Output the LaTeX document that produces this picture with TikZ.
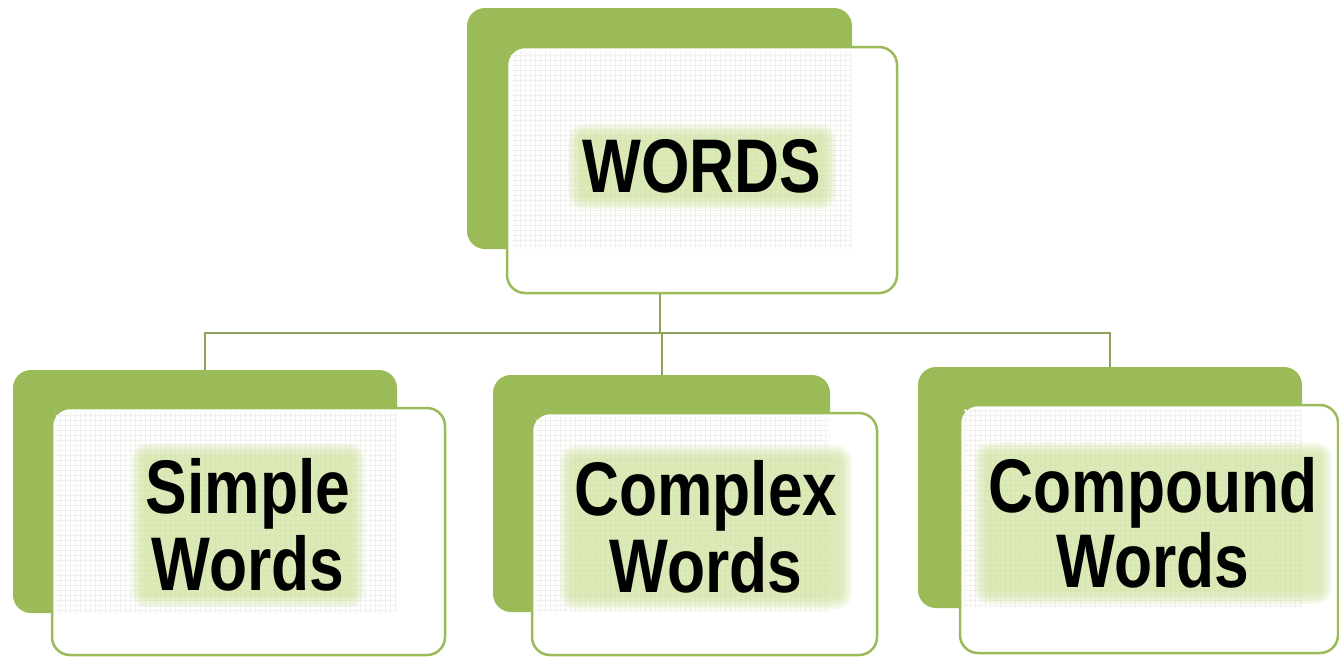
\documentclass[tikz,border=0pt]{standalone}
\usepackage{fontspec}
\newfontfamily\lblfont[FakeStretch=0.82]{Liberation Sans}
\definecolor{olive}{HTML}{9BBB59}
\definecolor{linec}{HTML}{8CA35A}
\definecolor{glowc}{HTML}{CFE39C}
\definecolor{gridc}{HTML}{F0F0EC}
\pgfdeclarelayer{fg}
\pgfsetlayers{main,fg}
\tikzset{
  backbox/.style={fill=olive, draw=none, rounded corners=18pt, inner sep=0pt},
  frontbox/.style={fill=white, draw=olive, line width=2.5pt, rounded corners=18pt, inner sep=0pt},
  lbl/.style={font=\lblfont\bfseries\fontsize{76}{77}\selectfont, align=center, inner sep=0pt, anchor=base, text=black},
  conn/.style={draw=linec, line width=2pt},
  gridline/.style={draw=gridc, line width=0.5pt},
  glowlayer/.style={fill=glowc, opacity=0.22, draw=none}
}
\newcommand\glowbox[1]{%
  \foreach \e in {12,9,6,3,0}{%
    \fill[glowlayer, rounded corners=\e pt+4pt]
      ([xshift=-\e pt-2pt,yshift=\e pt+2pt]#1.north west) rectangle
      ([xshift=\e pt+2pt,yshift=-\e pt-4pt]#1.south east);}}
\begin{document}
\begin{tikzpicture}[x=1pt,y=-1pt]
\useasboundingbox[fill=white] (0,0) rectangle (1339,657);
% back boxes
\node[backbox, minimum width=385pt, minimum height=241pt] (tb) at (659.5,128.5) {};
\node[backbox, minimum width=384pt, minimum height=243pt] (sb) at (205,491.5) {};
\node[backbox, minimum width=337pt, minimum height=237pt] (cb) at (661.5,493.5) {};
\node[backbox, minimum width=384pt, minimum height=241pt] (pb) at (1110,487.5) {};
% connectors
\coordinate (bus) at (0,333);
\draw[conn] (sb.north) |- (pb.north |- bus) -- (pb.north);
\draw[conn] (cb.north) -- (cb.north |- bus);
% front boxes
\node[frontbox, minimum width=390pt, minimum height=246pt] (tf) at (702,170) {};
\node[frontbox, minimum width=393pt, minimum height=247pt] (sf) at (248.5,531.5) {};
\node[frontbox, minimum width=345pt, minimum height=242pt] (cf) at (704.5,534) {};
\node[frontbox, minimum width=378pt, minimum height=248pt] (pf) at (1149,529) {};
\draw[conn] (tb.center |- tf.south) -- (tb.center |- bus);
% faint grid texture
\foreach \f/\b in {tf/tb, sf/sb, cf/cb, pf/pb}{
  \begin{scope}
    \clip ([xshift=5pt,yshift=-6pt]\f.north west) rectangle (\b.south east);
    \draw[gridline] (\f.north west) grid[step=5pt] (\b.south east);
  \end{scope}
}
% labels
\begin{pgfonlayer}{fg}
\node[lbl] (tl) at (702,192) {WORDS};
\node[lbl] (sl) at (248,590) {Simple\\Words};
\node[lbl] (cl) at (706,592) {Complex\\Words};
\node[lbl] (pl) at (1153,587) {Compound\\[-2pt]Words};
\end{pgfonlayer}
% soft glow behind the labels
\glowbox{tl}
\glowbox{sl}
\glowbox{cl}
\glowbox{pl}
\end{tikzpicture}
\end{document}
